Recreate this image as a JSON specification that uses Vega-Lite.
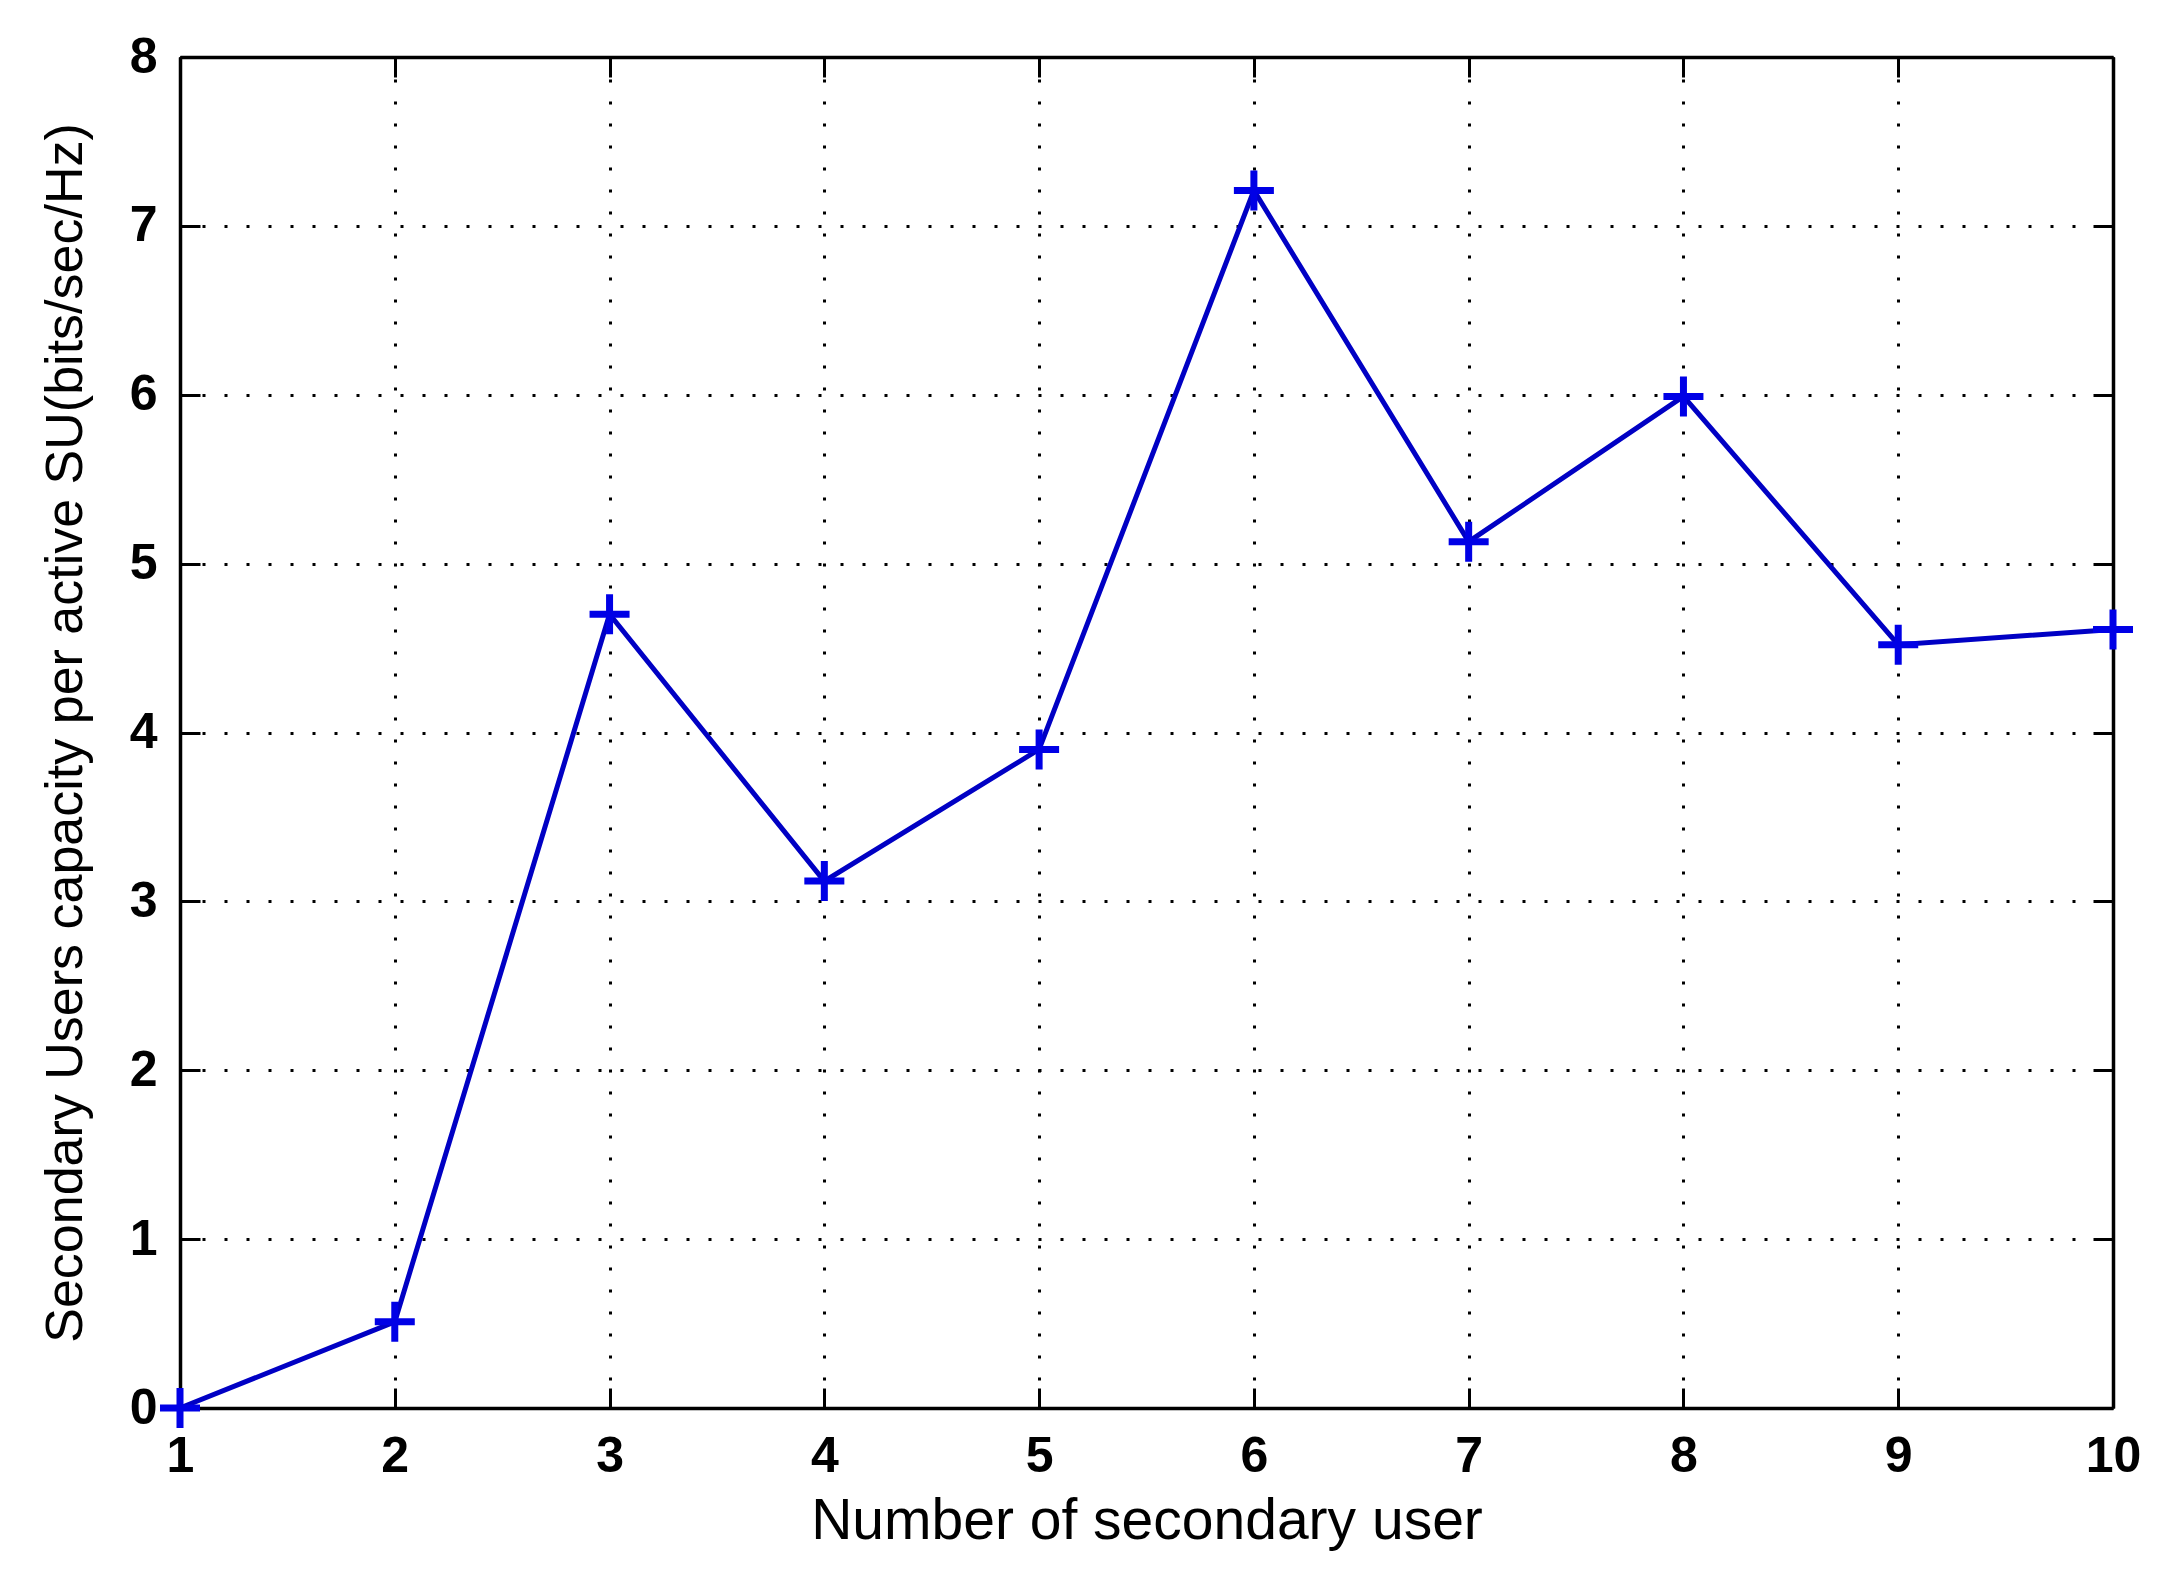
{
  "$schema": "https://vega.github.io/schema/vega-lite/v6.json",
  "autosize": {"type": "none"},
  "width": 1933,
  "height": 1351,
  "padding": {"left": 180, "top": 57, "right": 58, "bottom": 165},
  "background": "white",
  "view": {"stroke": null},
  "config": {
    "font": "Liberation Sans",
    "axis": {
      "domainColor": "black",
      "domainWidth": 3.5,
      "tickColor": "black",
      "tickWidth": 3,
      "tickSize": -20,
      "labelFont": "Liberation Sans",
      "labelFontSize": 50,
      "labelFontWeight": "bold",
      "labelColor": "black",
      "labelFlush": false,
      "titleFont": "Liberation Sans",
      "titleFontWeight": "normal",
      "titleColor": "black",
      "gridColor": "black",
      "gridOpacity": 1,
      "gridWidth": 3,
      "gridDash": [3, 19]
    }
  },
  "data": {
    "values": [
      {"users": 1, "capacity": 0.0},
      {"users": 2, "capacity": 0.51},
      {"users": 3, "capacity": 4.70},
      {"users": 4, "capacity": 3.12},
      {"users": 5, "capacity": 3.90},
      {"users": 6, "capacity": 7.21},
      {"users": 7, "capacity": 5.13},
      {"users": 8, "capacity": 5.99},
      {"users": 9, "capacity": 4.52},
      {"users": 10, "capacity": 4.61}
    ]
  },
  "resolve": {"axis": {"x": "independent", "y": "independent"}},
  "layer": [
    {
      "mark": {"type": "line", "color": "#0000C4", "strokeWidth": 5, "clip": false},
      "encoding": {
        "x": {
          "field": "users", "type": "quantitative",
          "scale": {"domain": [1, 10], "nice": false, "zero": false},
          "axis": {
            "orient": "bottom",
            "values": [1, 2, 3, 4, 5, 6, 7, 8, 9, 10],
            "grid": true,
            "labelPadding": 43,
            "labelBaseline": "top",
            "title": "Number of secondary user",
            "titleFontSize": 57,
            "titleBaseline": "alphabetic",
            "titleY": 130
          }
        },
        "y": {
          "field": "capacity", "type": "quantitative",
          "scale": {"domain": [0, 8], "nice": false},
          "axis": {
            "orient": "left",
            "values": [0, 1, 2, 3, 4, 5, 6, 7, 8],
            "grid": true,
            "labelPadding": 43,
            "title": "Secondary Users capacity per  active SU(bits/sec/Hz)",
            "titleFontSize": 52,
            "titleBaseline": "middle",
            "titleX": -115,
            "titleAngle": -90
          }
        }
      }
    },
    {
      "mark": {
        "type": "point",
        "shape": "M-1,0H1M0,-1V1",
        "size": 1600,
        "filled": false,
        "stroke": "#0000E6",
        "strokeWidth": 7,
        "opacity": 1,
        "clip": false
      },
      "encoding": {
        "x": {
          "field": "users", "type": "quantitative",
          "axis": {
            "orient": "top",
            "values": [1, 2, 3, 4, 5, 6, 7, 8, 9, 10],
            "labels": false,
            "grid": false,
            "title": null
          }
        },
        "y": {
          "field": "capacity", "type": "quantitative",
          "axis": {
            "orient": "right",
            "values": [0, 1, 2, 3, 4, 5, 6, 7, 8],
            "labels": false,
            "grid": false,
            "title": null
          }
        }
      }
    }
  ]
}
